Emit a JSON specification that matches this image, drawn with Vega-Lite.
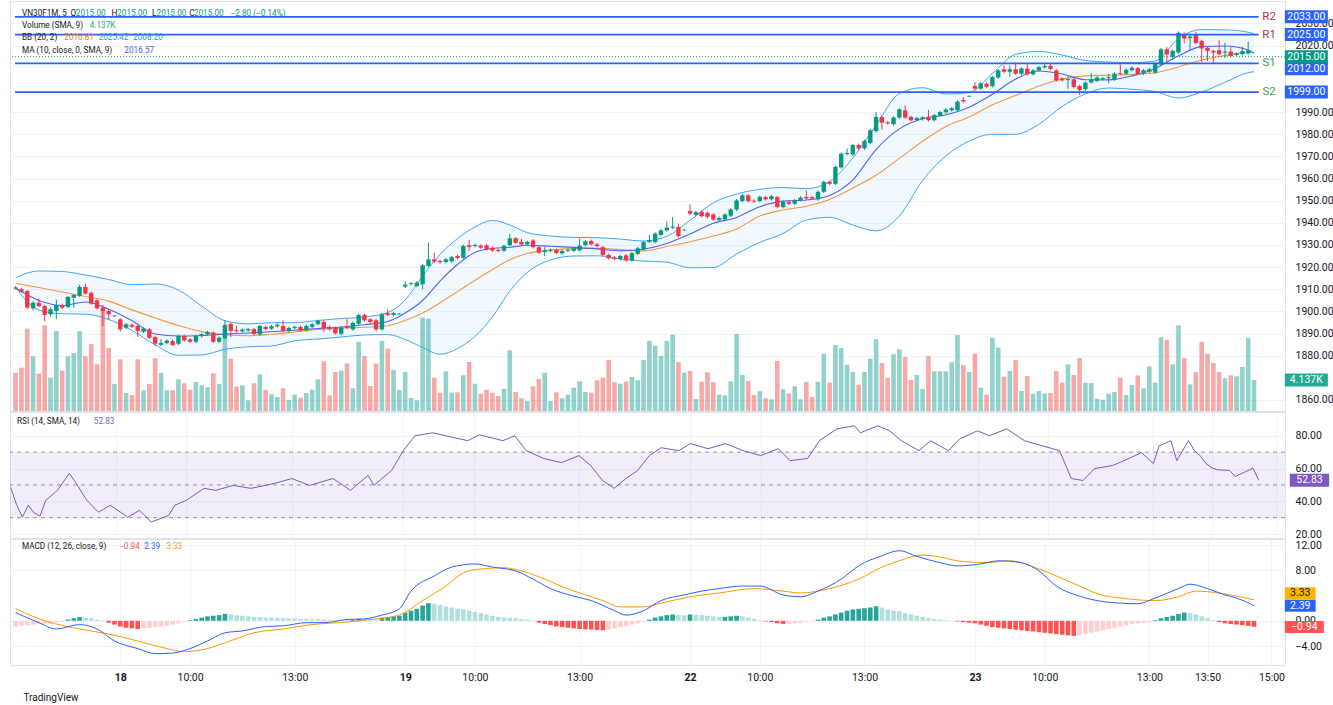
{
"$schema": "https://vega.github.io/schema/vega-lite/v6.json",
"background": "white",
"padding": {"left": 8, "top": 0, "right": 0, "bottom": 0},
"bounds": "flush",
"spacing": 1,
"config": {
  "font": "Roboto",
  "view": {"stroke": "#e0e3eb"},
  "axis": {"labelFont": "Roboto", "labelFontSize": 10.5, "labelColor": "#131722", "gridColor": "#f0f3fa", "domain": false, "ticks": false, "labelOverlap": false},
  "axisRight": {"labelOverlap": false}
},
"datasets": {
"one": [{}],
"k": [
{"i":-1,"o":1910.8,"h":1911.5,"l":1909.9,"c":1910.3,"v":5110,"m":-0.9,"g":1},
{"i":0,"o":1910.0,"h":1910.6,"l":1908.5,"c":1908.9,"v":5790,"m":-0.8,"g":1},
{"i":1,"o":1909.2,"h":1909.6,"l":1901.2,"c":1901.7,"v":10990,"m":-0.7,"g":1},
{"i":2,"o":1901.4,"h":1904.6,"l":1900.5,"c":1903.9,"v":7300,"m":-0.6,"g":1},
{"i":3,"o":1903.9,"h":1905.8,"l":1901.9,"c":1902.4,"v":4990,"m":-0.5,"g":1},
{"i":4,"o":1902.4,"h":1902.9,"l":1895.4,"c":1898.4,"v":11440,"m":-0.45,"g":1},
{"i":5,"o":1898.7,"h":1901.8,"l":1897.8,"c":1901.0,"v":4450,"m":-0.4,"g":1},
{"i":6,"o":1900.2,"h":1905.3,"l":1896.5,"c":1902.9,"v":10680,"m":-0.3,"g":1},
{"i":7,"o":1902.9,"h":1903.5,"l":1901.0,"c":1901.7,"v":5390,"m":-0.2,"g":1},
{"i":8,"o":1902.0,"h":1907.0,"l":1901.5,"c":1906.5,"v":7300,"m":0.2,"g":1},
{"i":9,"o":1906.2,"h":1907.9,"l":1901.7,"c":1907.4,"v":7750,"m":0.4,"g":1},
{"i":10,"o":1907.0,"h":1912.0,"l":1906.5,"c":1911.0,"v":10680,"m":0.6,"g":1},
{"i":11,"o":1911.0,"h":1912.6,"l":1907.5,"c":1908.0,"v":7300,"m":0.5,"g":0},
{"i":12,"o":1908.4,"h":1909.0,"l":1903.0,"c":1903.5,"v":8950,"m":0.4,"g":0},
{"i":13,"o":1905.0,"h":1905.6,"l":1900.9,"c":1901.4,"v":6230,"m":0.2,"g":0},
{"i":14,"o":1901.7,"h":1903.0,"l":1893.4,"c":1900.2,"v":13490,"m":0.1,"g":0},
{"i":15,"o":1900.2,"h":1901.0,"l":1896.2,"c":1898.7,"v":8410,"m":-0.3,"g":0},
{"i":16,"o":1897.8,"h":1898.3,"l":1897.5,"c":1898.1,"v":3610,"m":-0.6,"g":0},
{"i":17,"o":1896.4,"h":1897.0,"l":1890.8,"c":1891.9,"v":6900,"m":-0.9,"g":0},
{"i":18,"o":1892.6,"h":1894.8,"l":1892.0,"c":1894.2,"v":2400,"m":-1.1,"g":0},
{"i":19,"o":1893.9,"h":1894.5,"l":1892.5,"c":1893.1,"v":2140,"m":-1.2,"g":0},
{"i":20,"o":1893.4,"h":1894.0,"l":1888.4,"c":1891.2,"v":6900,"m":-1.3,"g":0},
{"i":21,"o":1890.8,"h":1892.9,"l":1890.2,"c":1892.3,"v":2760,"m":-1.2,"g":1},
{"i":22,"o":1891.9,"h":1892.5,"l":1887.5,"c":1888.1,"v":3610,"m":-1.1,"g":1},
{"i":23,"o":1888.4,"h":1889.0,"l":1884.3,"c":1885.4,"v":7080,"m":-1.0,"g":1},
{"i":24,"o":1884.9,"h":1887.5,"l":1884.3,"c":1885.7,"v":5080,"m":-0.9,"g":1},
{"i":25,"o":1885.7,"h":1887.4,"l":1885.1,"c":1886.8,"v":2760,"m":-0.8,"g":1},
{"i":26,"o":1886.6,"h":1887.2,"l":1884.2,"c":1884.8,"v":2760,"m":-0.6,"g":1},
{"i":27,"o":1885.4,"h":1889.5,"l":1884.8,"c":1888.9,"v":4230,"m":-0.4,"g":1},
{"i":28,"o":1888.9,"h":1889.5,"l":1886.3,"c":1886.9,"v":3700,"m":-0.2,"g":1},
{"i":29,"o":1887.4,"h":1888.0,"l":1885.7,"c":1886.3,"v":2850,"m":0.1,"g":1},
{"i":30,"o":1886.3,"h":1889.5,"l":1885.7,"c":1888.9,"v":3870,"m":0.3,"g":1},
{"i":31,"o":1888.8,"h":1890.3,"l":1888.2,"c":1889.7,"v":3430,"m":0.5,"g":1},
{"i":32,"o":1889.6,"h":1891.3,"l":1889.0,"c":1890.7,"v":3160,"m":0.7,"g":1},
{"i":33,"o":1890.4,"h":1891.0,"l":1885.7,"c":1886.3,"v":5030,"m":0.8,"g":1},
{"i":34,"o":1886.3,"h":1888.7,"l":1885.7,"c":1888.1,"v":3610,"m":0.9,"g":1},
{"i":35,"o":1887.9,"h":1896.0,"l":1887.3,"c":1893.9,"v":9790,"m":1.1,"g":1},
{"i":36,"o":1894.4,"h":1895.0,"l":1888.4,"c":1891.2,"v":6990,"m":1.0,"g":0},
{"i":37,"o":1891.5,"h":1893.4,"l":1890.4,"c":1891.0,"v":3250,"m":0.9,"g":0},
{"i":38,"o":1891.0,"h":1892.4,"l":1890.4,"c":1891.8,"v":3430,"m":0.8,"g":0},
{"i":39,"o":1891.4,"h":1892.6,"l":1890.8,"c":1892.0,"v":1430,"m":0.7,"g":0},
{"i":40,"o":1892.0,"h":1892.6,"l":1889.2,"c":1889.8,"v":3700,"m":0.6,"g":0},
{"i":41,"o":1889.6,"h":1894.0,"l":1889.0,"c":1893.4,"v":4900,"m":0.58,"g":0},
{"i":42,"o":1893.0,"h":1893.6,"l":1891.4,"c":1892.0,"v":2800,"m":0.5,"g":0},
{"i":43,"o":1892.2,"h":1893.9,"l":1891.6,"c":1893.3,"v":2230,"m":0.48,"g":0},
{"i":44,"o":1893.3,"h":1894.6,"l":1892.7,"c":1894.0,"v":1870,"m":0.46,"g":0},
{"i":45,"o":1893.4,"h":1896.0,"l":1890.6,"c":1891.2,"v":3030,"m":0.4,"g":0},
{"i":46,"o":1891.1,"h":1893.1,"l":1890.5,"c":1892.5,"v":1470,"m":0.38,"g":0},
{"i":47,"o":1892.4,"h":1893.6,"l":1891.8,"c":1893.0,"v":2200,"m":0.36,"g":0},
{"i":48,"o":1893.0,"h":1893.6,"l":1890.8,"c":1891.4,"v":1780,"m":0.3,"g":0},
{"i":49,"o":1891.5,"h":1894.0,"l":1890.9,"c":1893.4,"v":2400,"m":0.29,"g":0},
{"i":50,"o":1893.0,"h":1894.8,"l":1892.4,"c":1894.2,"v":2850,"m":0.28,"g":0},
{"i":51,"o":1894.2,"h":1896.3,"l":1893.6,"c":1895.7,"v":4230,"m":0.27,"g":0},
{"i":52,"o":1895.3,"h":1896.0,"l":1890.8,"c":1892.6,"v":6640,"m":0.2,"g":0},
{"i":53,"o":1893.0,"h":1893.6,"l":1891.4,"c":1892.0,"v":2090,"m":0.18,"g":0},
{"i":54,"o":1892.6,"h":1893.2,"l":1889.5,"c":1890.1,"v":5200,"m":0.1,"g":0},
{"i":55,"o":1889.9,"h":1893.2,"l":1889.3,"c":1892.6,"v":5390,"m":0.09,"g":0},
{"i":56,"o":1893.3,"h":1896.5,"l":1892.0,"c":1892.6,"v":6370,"m":0.08,"g":0},
{"i":57,"o":1891.9,"h":1895.4,"l":1891.3,"c":1894.8,"v":3030,"m":0.15,"g":1},
{"i":58,"o":1894.4,"h":1899.0,"l":1893.8,"c":1898.4,"v":9210,"m":0.3,"g":1},
{"i":59,"o":1898.4,"h":1899.0,"l":1895.4,"c":1896.0,"v":7340,"m":0.28,"g":0},
{"i":60,"o":1896.4,"h":1897.0,"l":1894.6,"c":1895.2,"v":3340,"m":0.26,"g":0},
{"i":61,"o":1896.0,"h":1896.6,"l":1891.0,"c":1891.9,"v":6320,"m":0.2,"g":0},
{"i":62,"o":1891.9,"h":1899.3,"l":1891.3,"c":1898.7,"v":9350,"m":0.5,"g":1},
{"i":63,"o":1899.2,"h":1901.0,"l":1897.8,"c":1898.4,"v":8320,"m":0.6,"g":1},
{"i":64,"o":1898.4,"h":1899.8,"l":1897.8,"c":1899.2,"v":5480,"m":0.7,"g":1},
{"i":65,"o":1898.7,"h":1899.2,"l":1898.4,"c":1899.0,"v":2800,"m":0.8,"g":1},
{"i":66,"o":1911.2,"h":1913.6,"l":1910.6,"c":1912.1,"v":5200,"m":1.3,"g":1},
{"i":67,"o":1912.3,"h":1913.2,"l":1911.8,"c":1912.7,"v":1740,"m":1.6,"g":1},
{"i":68,"o":1911.5,"h":1913.6,"l":1910.9,"c":1913.0,"v":1430,"m":1.9,"g":1},
{"i":69,"o":1912.2,"h":1921.4,"l":1910.0,"c":1920.8,"v":12460,"m":2.4,"g":1},
{"i":70,"o":1920.5,"h":1931.0,"l":1919.9,"c":1923.5,"v":12320,"m":2.8,"g":1},
{"i":71,"o":1923.5,"h":1926.5,"l":1921.9,"c":1922.5,"v":4450,"m":2.7,"g":0},
{"i":72,"o":1922.8,"h":1923.4,"l":1921.6,"c":1922.2,"v":2450,"m":2.5,"g":0},
{"i":73,"o":1922.3,"h":1924.1,"l":1921.7,"c":1923.5,"v":5300,"m":2.3,"g":0},
{"i":74,"o":1922.6,"h":1925.1,"l":1922.0,"c":1924.5,"v":2450,"m":2.1,"g":0},
{"i":75,"o":1925.0,"h":1925.6,"l":1923.5,"c":1924.1,"v":2500,"m":1.9,"g":0},
{"i":76,"o":1924.2,"h":1930.1,"l":1923.6,"c":1929.5,"v":4770,"m":1.8,"g":0},
{"i":77,"o":1929.9,"h":1932.2,"l":1927.3,"c":1929.1,"v":6540,"m":1.6,"g":0},
{"i":78,"o":1929.5,"h":1930.6,"l":1928.9,"c":1930.0,"v":3650,"m":1.4,"g":0},
{"i":79,"o":1929.7,"h":1930.3,"l":1928.2,"c":1928.8,"v":2310,"m":1.2,"g":0},
{"i":80,"o":1929.8,"h":1930.4,"l":1927.4,"c":1928.0,"v":2800,"m":1.0,"g":0},
{"i":81,"o":1928.7,"h":1929.3,"l":1926.9,"c":1927.5,"v":2450,"m":0.8,"g":0},
{"i":82,"o":1927.8,"h":1928.4,"l":1926.7,"c":1927.3,"v":2000,"m":0.6,"g":0},
{"i":83,"o":1927.4,"h":1930.2,"l":1926.8,"c":1929.6,"v":2940,"m":0.5,"g":0},
{"i":84,"o":1929.9,"h":1935.0,"l":1929.3,"c":1933.0,"v":8100,"m":0.48,"g":0},
{"i":85,"o":1933.0,"h":1933.6,"l":1930.4,"c":1931.0,"v":2540,"m":0.4,"g":0},
{"i":86,"o":1931.3,"h":1932.8,"l":1929.6,"c":1930.2,"v":1700,"m":0.3,"g":0},
{"i":87,"o":1930.3,"h":1932.0,"l":1929.7,"c":1931.4,"v":1340,"m":0.2,"g":0},
{"i":88,"o":1932.0,"h":1932.6,"l":1928.4,"c":1929.0,"v":3300,"m":0.05,"g":0},
{"i":89,"o":1929.0,"h":1929.6,"l":1925.9,"c":1926.5,"v":4270,"m":-0.3,"g":0},
{"i":90,"o":1926.8,"h":1929.0,"l":1925.0,"c":1927.5,"v":5120,"m":-0.5,"g":0},
{"i":91,"o":1927.3,"h":1928.4,"l":1926.7,"c":1927.8,"v":1340,"m":-0.7,"g":0},
{"i":92,"o":1927.8,"h":1928.4,"l":1925.8,"c":1926.4,"v":2500,"m":-0.9,"g":0},
{"i":93,"o":1926.2,"h":1927.9,"l":1925.6,"c":1927.3,"v":1700,"m":-1.0,"g":0},
{"i":94,"o":1927.4,"h":1928.4,"l":1926.8,"c":1927.8,"v":2180,"m":-1.1,"g":0},
{"i":95,"o":1927.4,"h":1929.1,"l":1926.8,"c":1928.5,"v":3110,"m":-1.2,"g":0},
{"i":96,"o":1927.6,"h":1932.8,"l":1927.0,"c":1929.7,"v":3970,"m":-1.3,"g":0},
{"i":97,"o":1929.9,"h":1932.2,"l":1929.3,"c":1931.6,"v":2540,"m":-1.35,"g":0},
{"i":98,"o":1931.8,"h":1932.4,"l":1929.7,"c":1930.3,"v":2450,"m":-1.4,"g":0},
{"i":99,"o":1930.3,"h":1930.9,"l":1928.9,"c":1929.5,"v":4100,"m":-1.45,"g":0},
{"i":100,"o":1929.0,"h":1929.6,"l":1924.9,"c":1925.5,"v":4450,"m":-1.5,"g":0},
{"i":101,"o":1925.5,"h":1926.1,"l":1923.4,"c":1924.0,"v":6810,"m":-1.4,"g":1},
{"i":102,"o":1924.4,"h":1925.0,"l":1923.1,"c":1923.7,"v":3830,"m":-1.2,"g":1},
{"i":103,"o":1923.6,"h":1925.6,"l":1923.0,"c":1925.0,"v":3650,"m":-1.0,"g":1},
{"i":104,"o":1925.3,"h":1925.9,"l":1922.4,"c":1923.0,"v":3920,"m":-0.8,"g":1},
{"i":105,"o":1923.0,"h":1926.9,"l":1922.4,"c":1926.3,"v":4540,"m":-0.6,"g":1},
{"i":106,"o":1926.0,"h":1929.1,"l":1925.4,"c":1928.5,"v":4100,"m":-0.4,"g":1},
{"i":107,"o":1928.0,"h":1931.9,"l":1927.4,"c":1931.3,"v":6810,"m":-0.1,"g":1},
{"i":108,"o":1931.4,"h":1934.5,"l":1930.8,"c":1932.2,"v":9350,"m":0.2,"g":1},
{"i":109,"o":1931.3,"h":1935.7,"l":1930.7,"c":1935.1,"v":8720,"m":0.5,"g":1},
{"i":110,"o":1934.5,"h":1937.2,"l":1933.9,"c":1936.6,"v":7340,"m":0.7,"g":1},
{"i":111,"o":1936.6,"h":1940.5,"l":1936.0,"c":1937.8,"v":9350,"m":0.9,"g":1},
{"i":112,"o":1937.8,"h":1942.6,"l":1937.2,"c":1938.3,"v":10190,"m":1.0,"g":1},
{"i":113,"o":1938.1,"h":1939.6,"l":1933.4,"c":1934.0,"v":6540,"m":0.9,"g":0},
{"i":114,"o":1936.6,"h":1937.2,"l":1936.2,"c":1936.9,"v":5120,"m":0.85,"g":0},
{"i":115,"o":1945.3,"h":1948.3,"l":1943.5,"c":1944.1,"v":5340,"m":1.0,"g":1},
{"i":116,"o":1943.6,"h":1945.4,"l":1943.0,"c":1944.8,"v":1600,"m":0.95,"g":0},
{"i":117,"o":1945.0,"h":1945.6,"l":1942.4,"c":1943.0,"v":3910,"m":0.9,"g":0},
{"i":118,"o":1944.5,"h":1945.1,"l":1942.1,"c":1942.7,"v":5170,"m":0.8,"g":0},
{"i":119,"o":1943.8,"h":1944.4,"l":1940.9,"c":1941.5,"v":3830,"m":0.7,"g":0},
{"i":120,"o":1941.3,"h":1942.8,"l":1940.7,"c":1942.2,"v":2180,"m":0.6,"g":0},
{"i":121,"o":1941.6,"h":1944.3,"l":1941.0,"c":1943.7,"v":2100,"m":0.62,"g":1},
{"i":122,"o":1943.2,"h":1946.6,"l":1942.6,"c":1946.0,"v":3970,"m":0.7,"g":1},
{"i":123,"o":1946.0,"h":1950.7,"l":1945.4,"c":1950.1,"v":10280,"m":0.8,"g":1},
{"i":124,"o":1949.8,"h":1953.0,"l":1949.2,"c":1952.4,"v":4810,"m":0.7,"g":0},
{"i":125,"o":1952.4,"h":1953.0,"l":1949.2,"c":1949.8,"v":4000,"m":0.5,"g":0},
{"i":126,"o":1950.0,"h":1950.6,"l":1949.0,"c":1949.6,"v":2140,"m":0.3,"g":0},
{"i":127,"o":1949.8,"h":1952.3,"l":1949.2,"c":1951.7,"v":2650,"m":0.1,"g":0},
{"i":128,"o":1951.6,"h":1952.2,"l":1950.0,"c":1950.6,"v":1700,"m":-0.1,"g":0},
{"i":129,"o":1950.6,"h":1952.6,"l":1950.0,"c":1952.0,"v":1560,"m":-0.2,"g":0},
{"i":130,"o":1951.6,"h":1952.2,"l":1946.5,"c":1947.1,"v":6680,"m":-0.4,"g":0},
{"i":131,"o":1947.1,"h":1950.1,"l":1946.5,"c":1949.5,"v":2900,"m":-0.5,"g":0},
{"i":132,"o":1949.5,"h":1950.1,"l":1948.0,"c":1948.6,"v":2360,"m":-0.48,"g":1},
{"i":133,"o":1948.6,"h":1950.9,"l":1948.0,"c":1950.3,"v":3300,"m":-0.4,"g":1},
{"i":134,"o":1950.3,"h":1952.0,"l":1949.7,"c":1951.4,"v":1560,"m":-0.3,"g":1},
{"i":135,"o":1951.7,"h":1954.6,"l":1950.4,"c":1951.0,"v":3870,"m":-0.2,"g":1},
{"i":136,"o":1951.6,"h":1952.2,"l":1950.3,"c":1950.9,"v":1870,"m":-0.1,"g":1},
{"i":137,"o":1950.6,"h":1954.6,"l":1950.0,"c":1954.0,"v":3870,"m":0.2,"g":1},
{"i":138,"o":1954.0,"h":1959.1,"l":1953.4,"c":1958.5,"v":7650,"m":0.5,"g":1},
{"i":139,"o":1958.5,"h":1959.1,"l":1957.0,"c":1957.6,"v":3800,"m":0.7,"g":1},
{"i":140,"o":1957.6,"h":1965.8,"l":1957.0,"c":1965.2,"v":8810,"m":1.0,"g":1},
{"i":141,"o":1965.0,"h":1971.8,"l":1964.4,"c":1971.2,"v":8410,"m":1.3,"g":1},
{"i":142,"o":1971.0,"h":1973.6,"l":1970.4,"c":1971.5,"v":6180,"m":1.6,"g":1},
{"i":143,"o":1970.9,"h":1975.7,"l":1970.3,"c":1975.1,"v":5200,"m":1.8,"g":1},
{"i":144,"o":1975.1,"h":1975.7,"l":1973.0,"c":1973.6,"v":3510,"m":1.9,"g":1},
{"i":145,"o":1973.6,"h":1977.5,"l":1973.0,"c":1976.9,"v":5200,"m":2.0,"g":1},
{"i":146,"o":1976.0,"h":1982.4,"l":1975.4,"c":1981.8,"v":6990,"m":2.1,"g":1},
{"i":147,"o":1981.4,"h":1990.0,"l":1980.8,"c":1987.8,"v":9610,"m":2.3,"g":1},
{"i":148,"o":1987.8,"h":1988.4,"l":1982.0,"c":1985.2,"v":6410,"m":2.1,"g":0},
{"i":149,"o":1985.4,"h":1986.0,"l":1984.3,"c":1984.9,"v":4450,"m":1.8,"g":0},
{"i":150,"o":1984.5,"h":1988.1,"l":1983.9,"c":1987.5,"v":7570,"m":1.6,"g":0},
{"i":151,"o":1987.5,"h":1991.8,"l":1986.9,"c":1991.2,"v":8240,"m":1.5,"g":0},
{"i":152,"o":1990.8,"h":1993.0,"l":1986.9,"c":1987.5,"v":7210,"m":1.2,"g":0},
{"i":153,"o":1987.8,"h":1988.4,"l":1985.7,"c":1986.3,"v":4140,"m":1.0,"g":0},
{"i":154,"o":1986.4,"h":1987.9,"l":1985.8,"c":1987.3,"v":4810,"m":0.8,"g":0},
{"i":155,"o":1986.8,"h":1988.2,"l":1986.2,"c":1987.6,"v":2940,"m":0.6,"g":0},
{"i":156,"o":1987.8,"h":1991.0,"l":1985.7,"c":1986.3,"v":7340,"m":0.4,"g":0},
{"i":157,"o":1986.3,"h":1989.2,"l":1985.7,"c":1988.6,"v":5300,"m":0.3,"g":0},
{"i":158,"o":1988.5,"h":1990.6,"l":1987.9,"c":1990.0,"v":5300,"m":0.2,"g":0},
{"i":159,"o":1989.9,"h":1991.7,"l":1989.3,"c":1991.1,"v":5300,"m":0.1,"g":0},
{"i":160,"o":1990.8,"h":1992.3,"l":1990.2,"c":1991.7,"v":6500,"m":0.02,"g":0},
{"i":161,"o":1990.8,"h":1995.3,"l":1990.2,"c":1994.7,"v":10150,"m":-0.1,"g":0},
{"i":162,"o":1995.4,"h":1996.8,"l":1994.2,"c":1994.8,"v":6140,"m":-0.2,"g":0},
{"i":163,"o":1997.0,"h":1997.5,"l":1996.8,"c":1997.3,"v":5200,"m":-0.3,"g":0},
{"i":164,"o":2001.8,"h":2003.5,"l":2000.0,"c":2000.6,"v":7650,"m":-0.4,"g":0},
{"i":165,"o":2000.6,"h":2003.6,"l":2000.0,"c":2003.0,"v":3110,"m":-0.6,"g":0},
{"i":166,"o":2002.8,"h":2003.4,"l":2000.8,"c":2001.4,"v":2180,"m":-0.8,"g":0},
{"i":167,"o":2001.7,"h":2006.4,"l":2001.1,"c":2005.8,"v":9750,"m":-1.0,"g":0},
{"i":168,"o":2005.6,"h":2009.4,"l":2005.0,"c":2008.8,"v":8450,"m":-1.1,"g":0},
{"i":169,"o":2009.3,"h":2011.0,"l":2007.6,"c":2008.2,"v":4600,"m":-1.2,"g":0},
{"i":170,"o":2008.2,"h":2011.0,"l":2005.9,"c":2009.3,"v":5340,"m":-1.3,"g":0},
{"i":171,"o":2009.3,"h":2012.4,"l":2006.7,"c":2007.3,"v":6810,"m":-1.4,"g":0},
{"i":172,"o":2007.3,"h":2010.3,"l":2006.7,"c":2009.7,"v":2670,"m":-1.5,"g":0},
{"i":173,"o":2009.6,"h":2011.9,"l":2006.5,"c":2007.1,"v":4670,"m":-1.6,"g":0},
{"i":174,"o":2007.1,"h":2009.5,"l":2006.5,"c":2008.9,"v":2310,"m":-1.7,"g":0},
{"i":175,"o":2008.8,"h":2010.9,"l":2008.2,"c":2010.3,"v":2670,"m":-1.8,"g":0},
{"i":176,"o":2010.2,"h":2011.9,"l":2009.6,"c":2010.8,"v":2360,"m":-1.9,"g":0},
{"i":177,"o":2010.9,"h":2011.9,"l":2008.9,"c":2009.5,"v":2400,"m":-2.0,"g":0},
{"i":178,"o":2008.8,"h":2009.4,"l":2003.7,"c":2004.3,"v":5340,"m":-2.1,"g":0},
{"i":179,"o":2005.2,"h":2005.8,"l":2003.7,"c":2004.3,"v":3780,"m":-2.2,"g":0},
{"i":180,"o":2004.4,"h":2006.2,"l":2000.5,"c":2004.9,"v":6230,"m":-2.3,"g":0},
{"i":181,"o":2004.8,"h":2005.4,"l":2000.7,"c":2001.3,"v":4810,"m":-2.4,"g":0},
{"i":182,"o":2001.8,"h":2002.4,"l":1997.7,"c":1999.9,"v":7080,"m":-2.3,"g":1},
{"i":183,"o":2000.3,"h":2003.9,"l":1999.7,"c":2003.3,"v":3780,"m":-2.1,"g":1},
{"i":184,"o":2003.4,"h":2007.5,"l":2002.8,"c":2004.6,"v":3740,"m":-1.9,"g":1},
{"i":185,"o":2004.1,"h":2006.2,"l":2003.5,"c":2005.6,"v":1640,"m":-1.7,"g":1},
{"i":186,"o":2004.9,"h":2005.9,"l":2004.3,"c":2005.3,"v":1500,"m":-1.5,"g":1},
{"i":187,"o":2005.3,"h":2007.2,"l":2003.0,"c":2005.8,"v":2310,"m":-1.3,"g":1},
{"i":188,"o":2004.7,"h":2007.9,"l":2004.1,"c":2007.3,"v":2540,"m":-1.1,"g":1},
{"i":189,"o":2007.6,"h":2011.5,"l":2006.6,"c":2007.2,"v":4450,"m":-0.9,"g":1},
{"i":190,"o":2007.3,"h":2009.7,"l":2006.7,"c":2009.1,"v":2130,"m":-0.7,"g":1},
{"i":191,"o":2008.9,"h":2010.6,"l":2008.3,"c":2010.0,"v":3470,"m":-0.5,"g":1},
{"i":192,"o":2009.8,"h":2010.4,"l":2006.6,"c":2007.2,"v":4760,"m":-0.4,"g":1},
{"i":193,"o":2007.4,"h":2009.5,"l":2006.8,"c":2008.9,"v":3030,"m":-0.3,"g":1},
{"i":194,"o":2008.2,"h":2009.9,"l":2007.6,"c":2009.3,"v":5970,"m":-0.2,"g":1},
{"i":195,"o":2007.8,"h":2012.4,"l":2007.2,"c":2011.8,"v":3780,"m":0.1,"g":1},
{"i":196,"o":2011.5,"h":2018.9,"l":2010.9,"c":2018.3,"v":9840,"m":0.4,"g":1},
{"i":197,"o":2018.3,"h":2019.3,"l":2012.0,"c":2016.0,"v":9520,"m":0.6,"g":1},
{"i":198,"o":2014.9,"h":2018.2,"l":2013.5,"c":2017.6,"v":6230,"m":0.8,"g":1},
{"i":199,"o":2016.9,"h":2026.4,"l":2016.3,"c":2025.8,"v":11440,"m":1.1,"g":1},
{"i":200,"o":2025.3,"h":2025.9,"l":2021.0,"c":2023.2,"v":7080,"m":1.3,"g":1},
{"i":201,"o":2023.4,"h":2024.7,"l":2018.0,"c":2024.1,"v":3560,"m":1.2,"g":0},
{"i":202,"o":2025.0,"h":2026.2,"l":2020.6,"c":2021.2,"v":5200,"m":1.0,"g":0},
{"i":203,"o":2022.1,"h":2022.7,"l":2012.7,"c":2018.7,"v":9250,"m":0.7,"g":0},
{"i":204,"o":2019.0,"h":2019.6,"l":2013.0,"c":2017.6,"v":7650,"m":0.4,"g":0},
{"i":205,"o":2017.6,"h":2018.2,"l":2012.0,"c":2016.9,"v":6410,"m":0.1,"g":0},
{"i":206,"o":2017.9,"h":2022.4,"l":2015.5,"c":2016.1,"v":5200,"m":-0.2,"g":0},
{"i":207,"o":2016.8,"h":2021.3,"l":2014.5,"c":2017.3,"v":4370,"m":-0.4,"g":0},
{"i":208,"o":2017.3,"h":2019.5,"l":2014.7,"c":2015.3,"v":4760,"m":-0.5,"g":0},
{"i":209,"o":2015.8,"h":2017.0,"l":2015.2,"c":2016.6,"v":4630,"m":-0.6,"g":0},
{"i":210,"o":2016.2,"h":2019.5,"l":2015.6,"c":2017.5,"v":5880,"m":-0.7,"g":0},
{"i":211,"o":2016.5,"h":2021.8,"l":2015.9,"c":2017.8,"v":9750,"m":-0.8,"g":0},
{"i":212,"o":2015.0,"h":2015.0,"l":2015.0,"c":2015.0,"v":4137,"m":-0.94,"g":0}
],
"b": [
{"i":-1,"up":1915.21,"lo":1910.70,"mid":1912.69,"ma":1910.43},
{"i":3,"up":1918.24,"lo":1900.63,"mid":1910.79,"ma":1904.92},
{"i":7,"up":1918.01,"lo":1898.92,"mid":1908.76,"ma":1902.62},
{"i":11,"up":1916.43,"lo":1898.78,"mid":1906.73,"ma":1904.24},
{"i":15,"up":1914.40,"lo":1896.34,"mid":1904.65,"ma":1900.99},
{"i":19,"up":1912.05,"lo":1891.38,"mid":1900.68,"ma":1895.85},
{"i":23,"up":1912.37,"lo":1884.92,"mid":1897.02,"ma":1889.80},
{"i":27,"up":1909.66,"lo":1880.18,"mid":1893.59,"ma":1888.89},
{"i":31,"up":1902.44,"lo":1880.32,"mid":1890.88,"ma":1889.12},
{"i":35,"up":1895.80,"lo":1882.89,"mid":1889.48,"ma":1889.75},
{"i":39,"up":1894.40,"lo":1884.02,"mid":1889.03,"ma":1890.25},
{"i":43,"up":1894.90,"lo":1884.38,"mid":1889.66,"ma":1890.84},
{"i":47,"up":1894.90,"lo":1886.73,"mid":1890.70,"ma":1891.51},
{"i":51,"up":1895.89,"lo":1887.54,"mid":1891.83,"ma":1892.28},
{"i":55,"up":1896.79,"lo":1888.44,"mid":1892.46,"ma":1892.96},
{"i":59,"up":1897.47,"lo":1889.35,"mid":1892.87,"ma":1893.95},
{"i":63,"up":1899.50,"lo":1889.53,"mid":1893.54,"ma":1895.44},
{"i":66,"up":1905.15,"lo":1887.31,"mid":1895.89,"ma":1899.28},
{"i":69,"up":1915.98,"lo":1883.70,"mid":1899.28,"ma":1904.92},
{"i":72,"up":1925.78,"lo":1880.63,"mid":1903.88,"ma":1913.72},
{"i":75,"up":1932.87,"lo":1883.25,"mid":1908.94,"ma":1921.17},
{"i":78,"up":1938.10,"lo":1888.67,"mid":1914.04,"ma":1926.64},
{"i":81,"up":1941.04,"lo":1897.47,"mid":1918.92,"ma":1928.40},
{"i":84,"up":1939.01,"lo":1909.21,"mid":1923.34,"ma":1928.94},
{"i":87,"up":1935.58,"lo":1917.56,"mid":1926.18,"ma":1929.89},
{"i":91,"up":1934.04,"lo":1923.21,"mid":1927.72,"ma":1929.39},
{"i":95,"up":1933.41,"lo":1925.01,"mid":1928.35,"ma":1928.89},
{"i":99,"up":1933.27,"lo":1925.10,"mid":1928.44,"ma":1928.22},
{"i":103,"up":1932.64,"lo":1923.66,"mid":1927.90,"ma":1927.31},
{"i":107,"up":1931.78,"lo":1922.71,"mid":1927.31,"ma":1928.08},
{"i":111,"up":1933.91,"lo":1922.21,"mid":1929.30,"ma":1930.65},
{"i":115,"up":1941.13,"lo":1919.68,"mid":1931.42,"ma":1934.94},
{"i":119,"up":1949.03,"lo":1919.82,"mid":1934.00,"ma":1939.77},
{"i":123,"up":1953.00,"lo":1925.91,"mid":1937.20,"ma":1942.44},
{"i":127,"up":1955.12,"lo":1931.15,"mid":1943.07,"ma":1947.27},
{"i":131,"up":1955.94,"lo":1935.17,"mid":1945.78,"ma":1949.80},
{"i":135,"up":1955.39,"lo":1941.26,"mid":1947.50,"ma":1950.29},
{"i":139,"up":1958.65,"lo":1942.48,"mid":1950.52,"ma":1952.33},
{"i":143,"up":1969.26,"lo":1939.01,"mid":1955.71,"ma":1959.37},
{"i":147,"up":1984.15,"lo":1936.34,"mid":1961.44,"ma":1973.09},
{"i":151,"up":1998.37,"lo":1943.07,"mid":1969.07,"ma":1982.39},
{"i":155,"up":2001.00,"lo":1959.10,"mid":1976.79,"ma":1986.95},
{"i":159,"up":1998.15,"lo":1970.16,"mid":1983.52,"ma":1988.76},
{"i":163,"up":1998.74,"lo":1976.93,"mid":1987.77,"ma":1992.19},
{"i":167,"up":2007.40,"lo":1979.95,"mid":1993.27,"ma":1998.01},
{"i":171,"up":2016.07,"lo":1979.95,"mid":1997.47,"ma":2004.92},
{"i":175,"up":2017.38,"lo":1984.47,"mid":2001.76,"ma":2008.53},
{"i":179,"up":2015.76,"lo":1992.51,"mid":2004.92,"ma":2007.18},
{"i":183,"up":2013.23,"lo":1998.19,"mid":2006.32,"ma":2004.60},
{"i":187,"up":2012.60,"lo":2000.86,"mid":2006.64,"ma":2004.52},
{"i":191,"up":2012.28,"lo":2000.27,"mid":2007.00,"ma":2006.32},
{"i":195,"up":2013.05,"lo":1999.28,"mid":2007.72,"ma":2009.71},
{"i":199,"up":2023.21,"lo":1996.34,"mid":2010.38,"ma":2015.40},
{"i":203,"up":2027.23,"lo":1999.05,"mid":2013.54,"ma":2019.55},
{"i":207,"up":2027.13,"lo":2003.39,"mid":2015.49,"ma":2019.82},
{"i":211,"up":2026.05,"lo":2007.81,"mid":2017.02,"ma":2018.01},
{"i":212,"up":2025.42,"lo":2008.20,"mid":2016.81,"ma":2016.57}
],
"lv": [
{"n":"R2","p":2033,"t":"R"},
{"n":"R1","p":2025,"t":"R"},
{"n":"S1","p":2012,"t":"S"},
{"n":"S2","p":1999,"t":"S"}
],
"r": [
{"i":-1,"r":48.5},{"i":0,"r":38},{"i":1,"r":30.3},{"i":2,"r":37.6},{"i":3,"r":33},{"i":4,"r":30.9},{"i":5,"r":40.6},{"i":7,"r":46.7},{"i":9,"r":57},{"i":10,"r":52},{"i":12,"r":40.6},{"i":14,"r":33.3},{"i":16,"r":37.6},{"i":19,"r":30.3},{"i":21,"r":34.5},{"i":23,"r":27.3},{"i":26,"r":31.5},{"i":27,"r":37.6},{"i":29,"r":40.6},{"i":32,"r":47.9},{"i":34,"r":46.7},{"i":37,"r":49.7},{"i":40,"r":47.9},{"i":44,"r":50.9},{"i":47,"r":53.9},{"i":50,"r":49.7},{"i":54,"r":53.9},{"i":57,"r":46.7},{"i":60,"r":55.8},{"i":61,"r":49.7},{"i":64,"r":58.8},{"i":66,"r":70.9},{"i":68,"r":80},{"i":71,"r":81.8},{"i":74,"r":79.4},{"i":77,"r":77},{"i":79,"r":80.6},{"i":83,"r":77},{"i":85,"r":80},{"i":87,"r":70.9},{"i":90,"r":66.1},{"i":93,"r":63.6},{"i":96,"r":67.9},{"i":98,"r":61.8},{"i":100,"r":52.7},{"i":102,"r":47.9},{"i":104,"r":53.9},{"i":106,"r":58.8},{"i":108,"r":67.9},{"i":110,"r":72.7},{"i":113,"r":70.9},{"i":115,"r":75.2},{"i":118,"r":72.1},{"i":121,"r":75.2},{"i":124,"r":70.9},{"i":127,"r":67.9},{"i":130,"r":72.1},{"i":132,"r":64.8},{"i":135,"r":66.1},{"i":137,"r":77},{"i":140,"r":84.2},{"i":143,"r":86.1},{"i":144,"r":81.8},{"i":147,"r":86.1},{"i":149,"r":83},{"i":151,"r":77},{"i":154,"r":70.9},{"i":156,"r":77},{"i":159,"r":70.9},{"i":161,"r":78.2},{"i":164,"r":83},{"i":166,"r":80},{"i":169,"r":84.2},{"i":172,"r":77},{"i":175,"r":73.9},{"i":178,"r":70.9},{"i":180,"r":53.9},{"i":182,"r":52.7},{"i":184,"r":60},{"i":187,"r":61.8},{"i":189,"r":64.8},{"i":192,"r":69.7},{"i":194,"r":63},{"i":195,"r":73.9},{"i":197,"r":77},{"i":198,"r":64.8},{"i":200,"r":77},{"i":201,"r":70.9},{"i":202,"r":67.9},{"i":203,"r":63},{"i":204,"r":60.4},{"i":205,"r":59.2},{"i":207,"r":58.8},{"i":208,"r":55.2},{"i":209,"r":56.8},{"i":211,"r":60.2},{"i":212,"r":52.83}
],
"md": [
{"i":-1,"v":1.3},{"i":3,"v":-0.3},{"i":6,"v":-1.3},{"i":10,"v":-0.6},{"i":13,"v":-1.3},{"i":16,"v":-3.2},{"i":20,"v":-4.4},{"i":23,"v":-5.2},{"i":26,"v":-5.1},{"i":29,"v":-4.4},{"i":32,"v":-3.2},{"i":35,"v":-1.9},{"i":38,"v":-1.6},{"i":42,"v":-0.9},{"i":45,"v":-0.8},{"i":49,"v":-0.3},{"i":52,"v":-0.3},{"i":56,"v":0.2},{"i":59,"v":0.3},{"i":62,"v":0.9},{"i":65,"v":1.9},{"i":67,"v":4.7},{"i":71,"v":7.1},{"i":74,"v":8.5},{"i":78,"v":9.0},{"i":81,"v":8.5},{"i":85,"v":7.9},{"i":88,"v":6.6},{"i":91,"v":5.1},{"i":95,"v":3.9},{"i":98,"v":3.2},{"i":102,"v":1.6},{"i":104,"v":0.9},{"i":107,"v":1.6},{"i":110,"v":3.2},{"i":114,"v":4.1},{"i":117,"v":4.7},{"i":120,"v":5.1},{"i":124,"v":5.5},{"i":127,"v":5.5},{"i":131,"v":4.1},{"i":134,"v":3.8},{"i":137,"v":4.7},{"i":141,"v":6.6},{"i":144,"v":8.7},{"i":148,"v":10.3},{"i":151,"v":11.1},{"i":154,"v":10.2},{"i":158,"v":9.2},{"i":161,"v":8.7},{"i":165,"v":9.0},{"i":168,"v":9.5},{"i":172,"v":9.2},{"i":175,"v":7.9},{"i":178,"v":5.5},{"i":182,"v":3.9},{"i":185,"v":3.2},{"i":189,"v":2.8},{"i":192,"v":2.7},{"i":195,"v":3.6},{"i":199,"v":5.1},{"i":201,"v":5.8},{"i":204,"v":5.1},{"i":207,"v":4.1},{"i":209,"v":3.6},{"i":212,"v":2.39}
],
"sg": [
{"i":-1,"v":1.9},{"i":4,"v":0.0},{"i":10,"v":-1.3},{"i":15,"v":-2.1},{"i":20,"v":-3.2},{"i":25,"v":-4.4},{"i":28,"v":-4.9},{"i":32,"v":-4.4},{"i":35,"v":-3.5},{"i":40,"v":-1.9},{"i":45,"v":-1.3},{"i":50,"v":-0.6},{"i":56,"v":-0.2},{"i":61,"v":0.3},{"i":65,"v":0.9},{"i":69,"v":3.2},{"i":73,"v":5.5},{"i":76,"v":7.6},{"i":79,"v":8.2},{"i":83,"v":8.4},{"i":86,"v":7.9},{"i":90,"v":6.6},{"i":93,"v":5.4},{"i":97,"v":4.1},{"i":100,"v":3.2},{"i":103,"v":2.2},{"i":107,"v":2.2},{"i":110,"v":2.8},{"i":115,"v":3.8},{"i":120,"v":4.4},{"i":126,"v":5.1},{"i":131,"v":4.7},{"i":134,"v":4.4},{"i":139,"v":5.1},{"i":144,"v":6.6},{"i":148,"v":8.5},{"i":151,"v":9.5},{"i":155,"v":10.4},{"i":158,"v":10.1},{"i":161,"v":9.5},{"i":166,"v":9.2},{"i":170,"v":9.5},{"i":175,"v":8.2},{"i":178,"v":7.1},{"i":182,"v":5.5},{"i":185,"v":4.3},{"i":190,"v":3.5},{"i":195,"v":3.2},{"i":199,"v":3.8},{"i":202,"v":4.7},{"i":206,"v":4.4},{"i":209,"v":3.9},{"i":212,"v":3.33}
]
},
"vconcat": [
{
"width": 1275, "height": 410,
"resolve": {"scale": {"y": "independent"}},
"layer": [
{
"layer": [
{"data": {"name": "k"},
 "mark": {"type": "bar", "width": 4.6, "clip": true, "opacity": 0.5},
 "encoding": {
  "x": {"field": "i", "type": "quantitative", "scale": {"domain": [-1.11, 216.47], "nice": false, "zero": false}, "axis": null},
  "y": {"field": "v", "type": "quantitative", "scale": {"domain": [0, 54735], "nice": false}, "axis": null},
  "y2": {"datum": 0},
  "color": {"condition": {"test": "datum.c >= datum.o", "value": "#26a69a"}, "value": "#ef5350"}
 }},
{"data": {"name": "one"},
 "mark": {"type": "rule", "strokeWidth": 13, "strokeCap": "butt", "color": "#22ab94"},
 "encoding": {
  "x": {"datum": 217.3, "type": "quantitative", "scale": {"domain": [-1.11, 216.47], "nice": false, "zero": false}, "axis": null},
  "x2": {"datum": 224.7},
  "y": {"datum": 4137, "type": "quantitative", "scale": {"domain": [0, 54735], "nice": false}, "axis": null}
 }},
{"data": {"name": "one"},
 "mark": {"type": "text", "text": "4.137K", "color": "white", "fontSize": 10.5, "align": "center", "baseline": "middle"},
 "encoding": {
  "x": {"datum": 221.0, "type": "quantitative", "scale": {"domain": [-1.11, 216.47], "nice": false, "zero": false}, "axis": null},
  "y": {"datum": 4137, "type": "quantitative", "scale": {"domain": [0, 54735], "nice": false}, "axis": null}
 }}
]
},
{
"layer": [
{"data": {"name": "b"},
 "mark": {"type": "area", "color": "#2196f3", "opacity": 0.06, "interpolate": "monotone"},
 "encoding": {
  "x": {"field": "i", "type": "quantitative", "scale": {"domain": [-1.11, 216.47], "nice": false, "zero": false}, "axis": {"orient": "bottom", "labels": false, "grid": true, "title": null, "values": [17, 29, 47, 66, 78, 96, 115, 127, 145, 164, 176, 194, 204, 215]}},
  "y": {"field": "up", "type": "quantitative", "scale": {"domain": [1855.03, 2040.14], "nice": false, "zero": false}, "axis": {"orient": "right", "title": null, "values": [1860, 1880, 1890, 1900, 1910, 1920, 1930, 1940, 1950, 1960, 1970, 1980, 1990, 2020, 2030], "format": ".2f", "labelPadding": 10, "grid": true, "labelOverlap": false}},
  "y2": {"field": "lo"}
 }},
{"data": {"name": "b"},
 "mark": {"type": "line", "color": "#42a5f5", "strokeWidth": 1, "interpolate": "monotone"},
 "encoding": {
  "x": {"field": "i", "type": "quantitative", "scale": {"domain": [-1.11, 216.47], "nice": false, "zero": false}, "axis": {"orient": "bottom", "labels": false, "grid": true, "title": null, "values": [17, 29, 47, 66, 78, 96, 115, 127, 145, 164, 176, 194, 204, 215]}},
  "y": {"field": "up", "type": "quantitative", "scale": {"domain": [1855.03, 2040.14], "nice": false, "zero": false}, "axis": {"orient": "right", "title": null, "values": [1860, 1880, 1890, 1900, 1910, 1920, 1930, 1940, 1950, 1960, 1970, 1980, 1990, 2020, 2030], "format": ".2f", "labelPadding": 10, "grid": true, "labelOverlap": false}}
 }},
{"data": {"name": "b"},
 "mark": {"type": "line", "color": "#42a5f5", "strokeWidth": 1, "interpolate": "monotone"},
 "encoding": {
  "x": {"field": "i", "type": "quantitative", "scale": {"domain": [-1.11, 216.47], "nice": false, "zero": false}, "axis": {"orient": "bottom", "labels": false, "grid": true, "title": null, "values": [17, 29, 47, 66, 78, 96, 115, 127, 145, 164, 176, 194, 204, 215]}},
  "y": {"field": "lo", "type": "quantitative", "scale": {"domain": [1855.03, 2040.14], "nice": false, "zero": false}, "axis": {"orient": "right", "title": null, "values": [1860, 1880, 1890, 1900, 1910, 1920, 1930, 1940, 1950, 1960, 1970, 1980, 1990, 2020, 2030], "format": ".2f", "labelPadding": 10, "grid": true, "labelOverlap": false}}
 }},
{"data": {"name": "b"},
 "mark": {"type": "line", "color": "#f7953f", "strokeWidth": 1.1, "interpolate": "monotone"},
 "encoding": {
  "x": {"field": "i", "type": "quantitative", "scale": {"domain": [-1.11, 216.47], "nice": false, "zero": false}, "axis": {"orient": "bottom", "labels": false, "grid": true, "title": null, "values": [17, 29, 47, 66, 78, 96, 115, 127, 145, 164, 176, 194, 204, 215]}},
  "y": {"field": "mid", "type": "quantitative", "scale": {"domain": [1855.03, 2040.14], "nice": false, "zero": false}, "axis": {"orient": "right", "title": null, "values": [1860, 1880, 1890, 1900, 1910, 1920, 1930, 1940, 1950, 1960, 1970, 1980, 1990, 2020, 2030], "format": ".2f", "labelPadding": 10, "grid": true, "labelOverlap": false}}
 }},
{"data": {"name": "b"},
 "mark": {"type": "line", "color": "#4e63f2", "strokeWidth": 1.1, "interpolate": "monotone"},
 "encoding": {
  "x": {"field": "i", "type": "quantitative", "scale": {"domain": [-1.11, 216.47], "nice": false, "zero": false}, "axis": {"orient": "bottom", "labels": false, "grid": true, "title": null, "values": [17, 29, 47, 66, 78, 96, 115, 127, 145, 164, 176, 194, 204, 215]}},
  "y": {"field": "ma", "type": "quantitative", "scale": {"domain": [1855.03, 2040.14], "nice": false, "zero": false}, "axis": {"orient": "right", "title": null, "values": [1860, 1880, 1890, 1900, 1910, 1920, 1930, 1940, 1950, 1960, 1970, 1980, 1990, 2020, 2030], "format": ".2f", "labelPadding": 10, "grid": true, "labelOverlap": false}}
 }},
{"data": {"name": "k"},
 "mark": {"type": "rule", "clip": true, "strokeWidth": 1},
 "encoding": {
  "x": {"field": "i", "type": "quantitative", "scale": {"domain": [-1.11, 216.47], "nice": false, "zero": false}, "axis": {"orient": "bottom", "labels": false, "grid": true, "title": null, "values": [17, 29, 47, 66, 78, 96, 115, 127, 145, 164, 176, 194, 204, 215]}},
  "y": {"field": "l", "type": "quantitative", "scale": {"domain": [1855.03, 2040.14], "nice": false, "zero": false}, "axis": {"orient": "right", "title": null, "values": [1860, 1880, 1890, 1900, 1910, 1920, 1930, 1940, 1950, 1960, 1970, 1980, 1990, 2020, 2030], "format": ".2f", "labelPadding": 10, "grid": true, "labelOverlap": false}},
  "y2": {"field": "h"},
  "color": {"condition": {"test": "datum.c >= datum.o", "value": "#089981"}, "value": "#f23645"}
 }},
{"data": {"name": "k"},
 "mark": {"type": "bar", "width": 4.4, "clip": true},
 "encoding": {
  "x": {"field": "i", "type": "quantitative", "scale": {"domain": [-1.11, 216.47], "nice": false, "zero": false}, "axis": {"orient": "bottom", "labels": false, "grid": true, "title": null, "values": [17, 29, 47, 66, 78, 96, 115, 127, 145, 164, 176, 194, 204, 215]}},
  "y": {"field": "o", "type": "quantitative", "scale": {"domain": [1855.03, 2040.14], "nice": false, "zero": false}, "axis": {"orient": "right", "title": null, "values": [1860, 1880, 1890, 1900, 1910, 1920, 1930, 1940, 1950, 1960, 1970, 1980, 1990, 2020, 2030], "format": ".2f", "labelPadding": 10, "grid": true, "labelOverlap": false}},
  "y2": {"field": "c"},
  "color": {"condition": {"test": "datum.c >= datum.o", "value": "#089981"}, "value": "#f23645"}
 }},
{"data": {"name": "one"},
 "mark": {"type": "rule", "color": "#089981", "strokeDash": [1, 2], "strokeWidth": 1},
 "encoding": {
  "y": {"datum": 2015, "type": "quantitative", "scale": {"domain": [1855.03, 2040.14], "nice": false, "zero": false}, "axis": {"orient": "right", "title": null, "values": [1860, 1880, 1890, 1900, 1910, 1920, 1930, 1940, 1950, 1960, 1970, 1980, 1990, 2020, 2030], "format": ".2f", "labelPadding": 10, "grid": true, "labelOverlap": false}}
 }},
{"data": {"name": "lv"},
 "mark": {"type": "rule", "color": "#2962ff", "strokeWidth": 1.8},
 "encoding": {
  "x": {"datum": -1.11, "type": "quantitative", "scale": {"domain": [-1.11, 216.47], "nice": false, "zero": false}, "axis": {"orient": "bottom", "labels": false, "grid": true, "title": null, "values": [17, 29, 47, 66, 78, 96, 115, 127, 145, 164, 176, 194, 204, 215]}},
  "x2": {"datum": 212.8},
  "y": {"field": "p", "type": "quantitative", "scale": {"domain": [1855.03, 2040.14], "nice": false, "zero": false}, "axis": {"orient": "right", "title": null, "values": [1860, 1880, 1890, 1900, 1910, 1920, 1930, 1940, 1950, 1960, 1970, 1980, 1990, 2020, 2030], "format": ".2f", "labelPadding": 10, "grid": true, "labelOverlap": false}}
 }},
{"data": {"name": "lv"},
 "mark": {"type": "text", "fontSize": 11.5, "align": "center", "baseline": "middle"},
 "encoding": {
  "x": {"datum": 214.6, "type": "quantitative", "scale": {"domain": [-1.11, 216.47], "nice": false, "zero": false}, "axis": {"orient": "bottom", "labels": false, "grid": true, "title": null, "values": [17, 29, 47, 66, 78, 96, 115, 127, 145, 164, 176, 194, 204, 215]}},
  "y": {"field": "p", "type": "quantitative", "scale": {"domain": [1855.03, 2040.14], "nice": false, "zero": false}, "axis": {"orient": "right", "title": null, "values": [1860, 1880, 1890, 1900, 1910, 1920, 1930, 1940, 1950, 1960, 1970, 1980, 1990, 2020, 2030], "format": ".2f", "labelPadding": 10, "grid": true, "labelOverlap": false}},
  "text": {"field": "n"},
  "color": {"condition": {"test": "datum.t == 'R'", "value": "#b2323f"}, "value": "#43a047"}
 }},
{"data": {"name": "lv"},
 "transform": [{"filter": "datum.n != 'S1'"}],
 "mark": {"type": "rule", "color": "#2962ff", "strokeWidth": 13, "strokeCap": "butt"},
 "encoding": {
  "x": {"datum": 217.3, "type": "quantitative", "scale": {"domain": [-1.11, 216.47], "nice": false, "zero": false}, "axis": {"orient": "bottom", "labels": false, "grid": true, "title": null, "values": [17, 29, 47, 66, 78, 96, 115, 127, 145, 164, 176, 194, 204, 215]}},
  "x2": {"datum": 224.7},
  "y": {"field": "p", "type": "quantitative", "scale": {"domain": [1855.03, 2040.14], "nice": false, "zero": false}, "axis": {"orient": "right", "title": null, "values": [1860, 1880, 1890, 1900, 1910, 1920, 1930, 1940, 1950, 1960, 1970, 1980, 1990, 2020, 2030], "format": ".2f", "labelPadding": 10, "grid": true, "labelOverlap": false}}
 }},
{"data": {"name": "lv"},
 "transform": [{"filter": "datum.n != 'S1'"}],
 "mark": {"type": "text", "fontSize": 10.5, "align": "center", "baseline": "middle", "color": "white"},
 "encoding": {
  "x": {"datum": 221.0, "type": "quantitative", "scale": {"domain": [-1.11, 216.47], "nice": false, "zero": false}, "axis": {"orient": "bottom", "labels": false, "grid": true, "title": null, "values": [17, 29, 47, 66, 78, 96, 115, 127, 145, 164, 176, 194, 204, 215]}},
  "y": {"field": "p", "type": "quantitative", "scale": {"domain": [1855.03, 2040.14], "nice": false, "zero": false}, "axis": {"orient": "right", "title": null, "values": [1860, 1880, 1890, 1900, 1910, 1920, 1930, 1940, 1950, 1960, 1970, 1980, 1990, 2020, 2030], "format": ".2f", "labelPadding": 10, "grid": true, "labelOverlap": false}},
  "text": {"field": "p", "format": ".2f"}
 }},
{"data": {"name": "one"},
 "mark": {"type": "rule", "color": "#2962ff", "strokeWidth": 13, "strokeCap": "butt"},
 "encoding": {
  "x": {"datum": 217.3, "type": "quantitative", "scale": {"domain": [-1.11, 216.47], "nice": false, "zero": false}, "axis": {"orient": "bottom", "labels": false, "grid": true, "title": null, "values": [17, 29, 47, 66, 78, 96, 115, 127, 145, 164, 176, 194, 204, 215]}},
  "x2": {"datum": 224.7},
  "y": {"datum": 2009.6, "type": "quantitative", "scale": {"domain": [1855.03, 2040.14], "nice": false, "zero": false}, "axis": {"orient": "right", "title": null, "values": [1860, 1880, 1890, 1900, 1910, 1920, 1930, 1940, 1950, 1960, 1970, 1980, 1990, 2020, 2030], "format": ".2f", "labelPadding": 10, "grid": true, "labelOverlap": false}}
 }},
{"data": {"name": "one"},
 "mark": {"type": "text", "text": "2012.00", "fontSize": 10.5, "align": "center", "baseline": "middle", "color": "white"},
 "encoding": {
  "x": {"datum": 221.0, "type": "quantitative", "scale": {"domain": [-1.11, 216.47], "nice": false, "zero": false}, "axis": {"orient": "bottom", "labels": false, "grid": true, "title": null, "values": [17, 29, 47, 66, 78, 96, 115, 127, 145, 164, 176, 194, 204, 215]}},
  "y": {"datum": 2009.6, "type": "quantitative", "scale": {"domain": [1855.03, 2040.14], "nice": false, "zero": false}, "axis": {"orient": "right", "title": null, "values": [1860, 1880, 1890, 1900, 1910, 1920, 1930, 1940, 1950, 1960, 1970, 1980, 1990, 2020, 2030], "format": ".2f", "labelPadding": 10, "grid": true, "labelOverlap": false}}
 }},
{"data": {"name": "one"},
 "mark": {"type": "rule", "color": "#089981", "strokeWidth": 13, "strokeCap": "butt"},
 "encoding": {
  "x": {"datum": 217.3, "type": "quantitative", "scale": {"domain": [-1.11, 216.47], "nice": false, "zero": false}, "axis": {"orient": "bottom", "labels": false, "grid": true, "title": null, "values": [17, 29, 47, 66, 78, 96, 115, 127, 145, 164, 176, 194, 204, 215]}},
  "x2": {"datum": 224.7},
  "y": {"datum": 2015, "type": "quantitative", "scale": {"domain": [1855.03, 2040.14], "nice": false, "zero": false}, "axis": {"orient": "right", "title": null, "values": [1860, 1880, 1890, 1900, 1910, 1920, 1930, 1940, 1950, 1960, 1970, 1980, 1990, 2020, 2030], "format": ".2f", "labelPadding": 10, "grid": true, "labelOverlap": false}}
 }},
{"data": {"name": "one"},
 "mark": {"type": "text", "text": "2015.00", "fontSize": 10.5, "align": "center", "baseline": "middle", "color": "white"},
 "encoding": {
  "x": {"datum": 221.0, "type": "quantitative", "scale": {"domain": [-1.11, 216.47], "nice": false, "zero": false}, "axis": {"orient": "bottom", "labels": false, "grid": true, "title": null, "values": [17, 29, 47, 66, 78, 96, 115, 127, 145, 164, 176, 194, 204, 215]}},
  "y": {"datum": 2015, "type": "quantitative", "scale": {"domain": [1855.03, 2040.14], "nice": false, "zero": false}, "axis": {"orient": "right", "title": null, "values": [1860, 1880, 1890, 1900, 1910, 1920, 1930, 1940, 1950, 1960, 1970, 1980, 1990, 2020, 2030], "format": ".2f", "labelPadding": 10, "grid": true, "labelOverlap": false}}
 }},
{"data": {"name": "one"},
 "mark": {"type": "text", "text": "VN30F1M, 5", "fontSize": 8.2, "align": "left", "baseline": "middle", "color": "#131722"},
 "encoding": {"x": {"datum": 0.09, "type": "quantitative", "scale": {"domain": [-1.11, 216.47], "nice": false, "zero": false}, "axis": {"orient": "bottom", "labels": false, "grid": true, "title": null, "values": [17, 29, 47, 66, 78, 96, 115, 127, 145, 164, 176, 194, 204, 215]}}, "y": {"datum": 2034.27, "type": "quantitative", "scale": {"domain": [1855.03, 2040.14], "nice": false, "zero": false}, "axis": {"orient": "right", "title": null, "values": [1860, 1880, 1890, 1900, 1910, 1920, 1930, 1940, 1950, 1960, 1970, 1980, 1990, 2020, 2030], "format": ".2f", "labelPadding": 10, "grid": true, "labelOverlap": false}}}},
{"data": {"name": "one"},
 "mark": {"type": "text", "text": "O", "fontSize": 8.2, "align": "left", "baseline": "middle", "color": "#131722"},
 "encoding": {"x": {"datum": 8.45, "type": "quantitative", "scale": {"domain": [-1.11, 216.47], "nice": false, "zero": false}, "axis": {"orient": "bottom", "labels": false, "grid": true, "title": null, "values": [17, 29, 47, 66, 78, 96, 115, 127, 145, 164, 176, 194, 204, 215]}}, "y": {"datum": 2034.27, "type": "quantitative", "scale": {"domain": [1855.03, 2040.14], "nice": false, "zero": false}, "axis": {"orient": "right", "title": null, "values": [1860, 1880, 1890, 1900, 1910, 1920, 1930, 1940, 1950, 1960, 1970, 1980, 1990, 2020, 2030], "format": ".2f", "labelPadding": 10, "grid": true, "labelOverlap": false}}}},
{"data": {"name": "one"},
 "mark": {"type": "text", "text": "2015.00", "fontSize": 8.2, "align": "left", "baseline": "middle", "color": "#089981"},
 "encoding": {"x": {"datum": 9.35, "type": "quantitative", "scale": {"domain": [-1.11, 216.47], "nice": false, "zero": false}, "axis": {"orient": "bottom", "labels": false, "grid": true, "title": null, "values": [17, 29, 47, 66, 78, 96, 115, 127, 145, 164, 176, 194, 204, 215]}}, "y": {"datum": 2034.27, "type": "quantitative", "scale": {"domain": [1855.03, 2040.14], "nice": false, "zero": false}, "axis": {"orient": "right", "title": null, "values": [1860, 1880, 1890, 1900, 1910, 1920, 1930, 1940, 1950, 1960, 1970, 1980, 1990, 2020, 2030], "format": ".2f", "labelPadding": 10, "grid": true, "labelOverlap": false}}}},
{"data": {"name": "one"},
 "mark": {"type": "text", "text": "H", "fontSize": 8.2, "align": "left", "baseline": "middle", "color": "#131722"},
 "encoding": {"x": {"datum": 15.5, "type": "quantitative", "scale": {"domain": [-1.11, 216.47], "nice": false, "zero": false}, "axis": {"orient": "bottom", "labels": false, "grid": true, "title": null, "values": [17, 29, 47, 66, 78, 96, 115, 127, 145, 164, 176, 194, 204, 215]}}, "y": {"datum": 2034.27, "type": "quantitative", "scale": {"domain": [1855.03, 2040.14], "nice": false, "zero": false}, "axis": {"orient": "right", "title": null, "values": [1860, 1880, 1890, 1900, 1910, 1920, 1930, 1940, 1950, 1960, 1970, 1980, 1990, 2020, 2030], "format": ".2f", "labelPadding": 10, "grid": true, "labelOverlap": false}}}},
{"data": {"name": "one"},
 "mark": {"type": "text", "text": "2015.00", "fontSize": 8.2, "align": "left", "baseline": "middle", "color": "#089981"},
 "encoding": {"x": {"datum": 16.47, "type": "quantitative", "scale": {"domain": [-1.11, 216.47], "nice": false, "zero": false}, "axis": {"orient": "bottom", "labels": false, "grid": true, "title": null, "values": [17, 29, 47, 66, 78, 96, 115, 127, 145, 164, 176, 194, 204, 215]}}, "y": {"datum": 2034.27, "type": "quantitative", "scale": {"domain": [1855.03, 2040.14], "nice": false, "zero": false}, "axis": {"orient": "right", "title": null, "values": [1860, 1880, 1890, 1900, 1910, 1920, 1930, 1940, 1950, 1960, 1970, 1980, 1990, 2020, 2030], "format": ".2f", "labelPadding": 10, "grid": true, "labelOverlap": false}}}},
{"data": {"name": "one"},
 "mark": {"type": "text", "text": "L", "fontSize": 8.2, "align": "left", "baseline": "middle", "color": "#131722"},
 "encoding": {"x": {"datum": 22.44, "type": "quantitative", "scale": {"domain": [-1.11, 216.47], "nice": false, "zero": false}, "axis": {"orient": "bottom", "labels": false, "grid": true, "title": null, "values": [17, 29, 47, 66, 78, 96, 115, 127, 145, 164, 176, 194, 204, 215]}}, "y": {"datum": 2034.27, "type": "quantitative", "scale": {"domain": [1855.03, 2040.14], "nice": false, "zero": false}, "axis": {"orient": "right", "title": null, "values": [1860, 1880, 1890, 1900, 1910, 1920, 1930, 1940, 1950, 1960, 1970, 1980, 1990, 2020, 2030], "format": ".2f", "labelPadding": 10, "grid": true, "labelOverlap": false}}}},
{"data": {"name": "one"},
 "mark": {"type": "text", "text": "2015.00", "fontSize": 8.2, "align": "left", "baseline": "middle", "color": "#089981"},
 "encoding": {"x": {"datum": 23.24, "type": "quantitative", "scale": {"domain": [-1.11, 216.47], "nice": false, "zero": false}, "axis": {"orient": "bottom", "labels": false, "grid": true, "title": null, "values": [17, 29, 47, 66, 78, 96, 115, 127, 145, 164, 176, 194, 204, 215]}}, "y": {"datum": 2034.27, "type": "quantitative", "scale": {"domain": [1855.03, 2040.14], "nice": false, "zero": false}, "axis": {"orient": "right", "title": null, "values": [1860, 1880, 1890, 1900, 1910, 1920, 1930, 1940, 1950, 1960, 1970, 1980, 1990, 2020, 2030], "format": ".2f", "labelPadding": 10, "grid": true, "labelOverlap": false}}}},
{"data": {"name": "one"},
 "mark": {"type": "text", "text": "C", "fontSize": 8.2, "align": "left", "baseline": "middle", "color": "#131722"},
 "encoding": {"x": {"datum": 28.87, "type": "quantitative", "scale": {"domain": [-1.11, 216.47], "nice": false, "zero": false}, "axis": {"orient": "bottom", "labels": false, "grid": true, "title": null, "values": [17, 29, 47, 66, 78, 96, 115, 127, 145, 164, 176, 194, 204, 215]}}, "y": {"datum": 2034.27, "type": "quantitative", "scale": {"domain": [1855.03, 2040.14], "nice": false, "zero": false}, "axis": {"orient": "right", "title": null, "values": [1860, 1880, 1890, 1900, 1910, 1920, 1930, 1940, 1950, 1960, 1970, 1980, 1990, 2020, 2030], "format": ".2f", "labelPadding": 10, "grid": true, "labelOverlap": false}}}},
{"data": {"name": "one"},
 "mark": {"type": "text", "text": "2015.00", "fontSize": 8.2, "align": "left", "baseline": "middle", "color": "#089981"},
 "encoding": {"x": {"datum": 29.66, "type": "quantitative", "scale": {"domain": [-1.11, 216.47], "nice": false, "zero": false}, "axis": {"orient": "bottom", "labels": false, "grid": true, "title": null, "values": [17, 29, 47, 66, 78, 96, 115, 127, 145, 164, 176, 194, 204, 215]}}, "y": {"datum": 2034.27, "type": "quantitative", "scale": {"domain": [1855.03, 2040.14], "nice": false, "zero": false}, "axis": {"orient": "right", "title": null, "values": [1860, 1880, 1890, 1900, 1910, 1920, 1930, 1940, 1950, 1960, 1970, 1980, 1990, 2020, 2030], "format": ".2f", "labelPadding": 10, "grid": true, "labelOverlap": false}}}},
{"data": {"name": "one"},
 "mark": {"type": "text", "text": "−2.80 (−0.14%)", "fontSize": 8.2, "align": "left", "baseline": "middle", "color": "#089981"},
 "encoding": {"x": {"datum": 35.97, "type": "quantitative", "scale": {"domain": [-1.11, 216.47], "nice": false, "zero": false}, "axis": {"orient": "bottom", "labels": false, "grid": true, "title": null, "values": [17, 29, 47, 66, 78, 96, 115, 127, 145, 164, 176, 194, 204, 215]}}, "y": {"datum": 2034.27, "type": "quantitative", "scale": {"domain": [1855.03, 2040.14], "nice": false, "zero": false}, "axis": {"orient": "right", "title": null, "values": [1860, 1880, 1890, 1900, 1910, 1920, 1930, 1940, 1950, 1960, 1970, 1980, 1990, 2020, 2030], "format": ".2f", "labelPadding": 10, "grid": true, "labelOverlap": false}}}},
{"data": {"name": "one"},
 "mark": {"type": "text", "text": "Volume (SMA, 9)", "fontSize": 8.2, "align": "left", "baseline": "middle", "color": "#131722"},
 "encoding": {"x": {"datum": 0.09, "type": "quantitative", "scale": {"domain": [-1.11, 216.47], "nice": false, "zero": false}, "axis": {"orient": "bottom", "labels": false, "grid": true, "title": null, "values": [17, 29, 47, 66, 78, 96, 115, 127, 145, 164, 176, 194, 204, 215]}}, "y": {"datum": 2028.63, "type": "quantitative", "scale": {"domain": [1855.03, 2040.14], "nice": false, "zero": false}, "axis": {"orient": "right", "title": null, "values": [1860, 1880, 1890, 1900, 1910, 1920, 1930, 1940, 1950, 1960, 1970, 1980, 1990, 2020, 2030], "format": ".2f", "labelPadding": 10, "grid": true, "labelOverlap": false}}}},
{"data": {"name": "one"},
 "mark": {"type": "text", "text": "4.137K", "fontSize": 8.2, "align": "left", "baseline": "middle", "color": "#22ab94"},
 "encoding": {"x": {"datum": 11.74, "type": "quantitative", "scale": {"domain": [-1.11, 216.47], "nice": false, "zero": false}, "axis": {"orient": "bottom", "labels": false, "grid": true, "title": null, "values": [17, 29, 47, 66, 78, 96, 115, 127, 145, 164, 176, 194, 204, 215]}}, "y": {"datum": 2028.63, "type": "quantitative", "scale": {"domain": [1855.03, 2040.14], "nice": false, "zero": false}, "axis": {"orient": "right", "title": null, "values": [1860, 1880, 1890, 1900, 1910, 1920, 1930, 1940, 1950, 1960, 1970, 1980, 1990, 2020, 2030], "format": ".2f", "labelPadding": 10, "grid": true, "labelOverlap": false}}}},
{"data": {"name": "one"},
 "mark": {"type": "text", "text": "BB (20, 2)", "fontSize": 8.2, "align": "left", "baseline": "middle", "color": "#131722"},
 "encoding": {"x": {"datum": 0.09, "type": "quantitative", "scale": {"domain": [-1.11, 216.47], "nice": false, "zero": false}, "axis": {"orient": "bottom", "labels": false, "grid": true, "title": null, "values": [17, 29, 47, 66, 78, 96, 115, 127, 145, 164, 176, 194, 204, 215]}}, "y": {"datum": 2023.21, "type": "quantitative", "scale": {"domain": [1855.03, 2040.14], "nice": false, "zero": false}, "axis": {"orient": "right", "title": null, "values": [1860, 1880, 1890, 1900, 1910, 1920, 1930, 1940, 1950, 1960, 1970, 1980, 1990, 2020, 2030], "format": ".2f", "labelPadding": 10, "grid": true, "labelOverlap": false}}}},
{"data": {"name": "one"},
 "mark": {"type": "text", "text": "2016.81", "fontSize": 8.2, "align": "left", "baseline": "middle", "color": "#f57c00"},
 "encoding": {"x": {"datum": 7.37, "type": "quantitative", "scale": {"domain": [-1.11, 216.47], "nice": false, "zero": false}, "axis": {"orient": "bottom", "labels": false, "grid": true, "title": null, "values": [17, 29, 47, 66, 78, 96, 115, 127, 145, 164, 176, 194, 204, 215]}}, "y": {"datum": 2023.21, "type": "quantitative", "scale": {"domain": [1855.03, 2040.14], "nice": false, "zero": false}, "axis": {"orient": "right", "title": null, "values": [1860, 1880, 1890, 1900, 1910, 1920, 1930, 1940, 1950, 1960, 1970, 1980, 1990, 2020, 2030], "format": ".2f", "labelPadding": 10, "grid": true, "labelOverlap": false}}}},
{"data": {"name": "one"},
 "mark": {"type": "text", "text": "2025.42", "fontSize": 8.2, "align": "left", "baseline": "middle", "color": "#2196f3"},
 "encoding": {"x": {"datum": 13.28, "type": "quantitative", "scale": {"domain": [-1.11, 216.47], "nice": false, "zero": false}, "axis": {"orient": "bottom", "labels": false, "grid": true, "title": null, "values": [17, 29, 47, 66, 78, 96, 115, 127, 145, 164, 176, 194, 204, 215]}}, "y": {"datum": 2023.21, "type": "quantitative", "scale": {"domain": [1855.03, 2040.14], "nice": false, "zero": false}, "axis": {"orient": "right", "title": null, "values": [1860, 1880, 1890, 1900, 1910, 1920, 1930, 1940, 1950, 1960, 1970, 1980, 1990, 2020, 2030], "format": ".2f", "labelPadding": 10, "grid": true, "labelOverlap": false}}}},
{"data": {"name": "one"},
 "mark": {"type": "text", "text": "2008.20", "fontSize": 8.2, "align": "left", "baseline": "middle", "color": "#2196f3"},
 "encoding": {"x": {"datum": 19.2, "type": "quantitative", "scale": {"domain": [-1.11, 216.47], "nice": false, "zero": false}, "axis": {"orient": "bottom", "labels": false, "grid": true, "title": null, "values": [17, 29, 47, 66, 78, 96, 115, 127, 145, 164, 176, 194, 204, 215]}}, "y": {"datum": 2023.21, "type": "quantitative", "scale": {"domain": [1855.03, 2040.14], "nice": false, "zero": false}, "axis": {"orient": "right", "title": null, "values": [1860, 1880, 1890, 1900, 1910, 1920, 1930, 1940, 1950, 1960, 1970, 1980, 1990, 2020, 2030], "format": ".2f", "labelPadding": 10, "grid": true, "labelOverlap": false}}}},
{"data": {"name": "one"},
 "mark": {"type": "text", "text": "MA (10, close, 0, SMA, 9)", "fontSize": 8.2, "align": "left", "baseline": "middle", "color": "#131722"},
 "encoding": {"x": {"datum": 0.09, "type": "quantitative", "scale": {"domain": [-1.11, 216.47], "nice": false, "zero": false}, "axis": {"orient": "bottom", "labels": false, "grid": true, "title": null, "values": [17, 29, 47, 66, 78, 96, 115, 127, 145, 164, 176, 194, 204, 215]}}, "y": {"datum": 2017.79, "type": "quantitative", "scale": {"domain": [1855.03, 2040.14], "nice": false, "zero": false}, "axis": {"orient": "right", "title": null, "values": [1860, 1880, 1890, 1900, 1910, 1920, 1930, 1940, 1950, 1960, 1970, 1980, 1990, 2020, 2030], "format": ".2f", "labelPadding": 10, "grid": true, "labelOverlap": false}}}},
{"data": {"name": "one"},
 "mark": {"type": "text", "text": "2016.57", "fontSize": 8.2, "align": "left", "baseline": "middle", "color": "#4e63f2"},
 "encoding": {"x": {"datum": 17.7, "type": "quantitative", "scale": {"domain": [-1.11, 216.47], "nice": false, "zero": false}, "axis": {"orient": "bottom", "labels": false, "grid": true, "title": null, "values": [17, 29, 47, 66, 78, 96, 115, 127, 145, 164, 176, 194, 204, 215]}}, "y": {"datum": 2017.79, "type": "quantitative", "scale": {"domain": [1855.03, 2040.14], "nice": false, "zero": false}, "axis": {"orient": "right", "title": null, "values": [1860, 1880, 1890, 1900, 1910, 1920, 1930, 1940, 1950, 1960, 1970, 1980, 1990, 2020, 2030], "format": ".2f", "labelPadding": 10, "grid": true, "labelOverlap": false}}}}
]
}
]
},
{
"width": 1275, "height": 126,
"layer": [
{"data": {"name": "one"},
 "mark": {"type": "rect", "color": "#7e57c2", "opacity": 0.1},
 "encoding": {
  "x": {"datum": -1.11, "type": "quantitative", "scale": {"domain": [-1.11, 216.47], "nice": false, "zero": false}, "axis": {"orient": "bottom", "labels": false, "grid": true, "title": null, "values": [17, 29, 47, 66, 78, 96, 115, 127, 145, 164, 176, 194, 204, 215]}},
  "x2": {"datum": 216.47},
  "y": {"datum": 70, "type": "quantitative", "scale": {"domain": [17.6, 94.5], "nice": false, "zero": false}, "axis": {"orient": "right", "title": null, "values": [20, 40, 60, 80], "format": ".2f", "labelPadding": 10, "grid": true, "labelOverlap": false}},
  "y2": {"datum": 30}
 }},
{"data": {"values": [{"lvl": 70}, {"lvl": 50}, {"lvl": 30}]},
 "mark": {"type": "rule", "color": "#787b86", "strokeDash": [4, 4], "strokeWidth": 1, "opacity": 0.8},
 "encoding": {
  "y": {"field": "lvl", "type": "quantitative", "scale": {"domain": [17.6, 94.5], "nice": false, "zero": false}, "axis": {"orient": "right", "title": null, "values": [20, 40, 60, 80], "format": ".2f", "labelPadding": 10, "grid": true, "labelOverlap": false}}
 }},
{"data": {"name": "r"},
 "mark": {"type": "line", "color": "#7e57c2", "strokeWidth": 1},
 "encoding": {
  "x": {"field": "i", "type": "quantitative", "scale": {"domain": [-1.11, 216.47], "nice": false, "zero": false}, "axis": {"orient": "bottom", "labels": false, "grid": true, "title": null, "values": [17, 29, 47, 66, 78, 96, 115, 127, 145, 164, 176, 194, 204, 215]}},
  "y": {"field": "r", "type": "quantitative", "scale": {"domain": [17.6, 94.5], "nice": false, "zero": false}, "axis": {"orient": "right", "title": null, "values": [20, 40, 60, 80], "format": ".2f", "labelPadding": 10, "grid": true, "labelOverlap": false}}
 }},
{"data": {"name": "one"},
 "mark": {"type": "rule", "color": "#7e57c2", "strokeWidth": 13, "strokeCap": "butt"},
 "encoding": {
  "x": {"datum": 217.3, "type": "quantitative", "scale": {"domain": [-1.11, 216.47], "nice": false, "zero": false}, "axis": {"orient": "bottom", "labels": false, "grid": true, "title": null, "values": [17, 29, 47, 66, 78, 96, 115, 127, 145, 164, 176, 194, 204, 215]}},
  "x2": {"datum": 224.0},
  "y": {"datum": 52.83, "type": "quantitative", "scale": {"domain": [17.6, 94.5], "nice": false, "zero": false}, "axis": {"orient": "right", "title": null, "values": [20, 40, 60, 80], "format": ".2f", "labelPadding": 10, "grid": true, "labelOverlap": false}}
 }},
{"data": {"name": "one"},
 "mark": {"type": "text", "text": "52.83", "fontSize": 10.5, "align": "center", "baseline": "middle", "color": "white"},
 "encoding": {
  "x": {"datum": 220.65, "type": "quantitative", "scale": {"domain": [-1.11, 216.47], "nice": false, "zero": false}, "axis": {"orient": "bottom", "labels": false, "grid": true, "title": null, "values": [17, 29, 47, 66, 78, 96, 115, 127, 145, 164, 176, 194, 204, 215]}},
  "y": {"datum": 52.83, "type": "quantitative", "scale": {"domain": [17.6, 94.5], "nice": false, "zero": false}, "axis": {"orient": "right", "title": null, "values": [20, 40, 60, 80], "format": ".2f", "labelPadding": 10, "grid": true, "labelOverlap": false}}
 }},
{"data": {"name": "one"},
 "mark": {"type": "text", "text": "RSI (14, SMA, 14)", "fontSize": 8.2, "align": "left", "baseline": "middle", "color": "#131722"},
 "encoding": {
  "x": {"datum": 0.09, "type": "quantitative", "scale": {"domain": [-1.11, 216.47], "nice": false, "zero": false}, "axis": {"orient": "bottom", "labels": false, "grid": true, "title": null, "values": [17, 29, 47, 66, 78, 96, 115, 127, 145, 164, 176, 194, 204, 215]}},
  "y": {"datum": 88.4, "type": "quantitative", "scale": {"domain": [17.6, 94.5], "nice": false, "zero": false}, "axis": {"orient": "right", "title": null, "values": [20, 40, 60, 80], "format": ".2f", "labelPadding": 10, "grid": true, "labelOverlap": false}}
 }},
{"data": {"name": "one"},
 "mark": {"type": "text", "text": "52.83", "fontSize": 8.2, "align": "left", "baseline": "middle", "color": "#7e57c2"},
 "encoding": {
  "x": {"datum": 13.2, "type": "quantitative", "scale": {"domain": [-1.11, 216.47], "nice": false, "zero": false}, "axis": {"orient": "bottom", "labels": false, "grid": true, "title": null, "values": [17, 29, 47, 66, 78, 96, 115, 127, 145, 164, 176, 194, 204, 215]}},
  "y": {"datum": 88.4, "type": "quantitative", "scale": {"domain": [17.6, 94.5], "nice": false, "zero": false}, "axis": {"orient": "right", "title": null, "values": [20, 40, 60, 80], "format": ".2f", "labelPadding": 10, "grid": true, "labelOverlap": false}}
 }}
]
},
{
"width": 1275, "height": 126,
"layer": [
{"data": {"name": "k"},
 "mark": {"type": "bar", "width": 4.6, "clip": true},
 "encoding": {
  "x": {"field": "i", "type": "quantitative", "scale": {"domain": [-1.11, 216.47], "nice": false, "zero": false},
        "axis": {"orient": "bottom", "grid": true, "values": [17, 29, 47, 66, 78, 96, 115, 127, 145, 164, 176, 194, 204, 215],
                 "labelExpr": "['18','10:00','13:00','19','10:00','13:00','22','10:00','13:00','23','10:00','13:00','13:50','15:00'][indexof([17,29,47,66,78,96,115,127,145,164,176,194,204,215], datum.value)]",
                 "labelFontWeight": {"condition": {"test": "indexof([17,66,115,164], datum.value) >= 0", "value": "bold"}, "value": "normal"},
                 "labelPadding": 7, "labelFontSize": 10.5, "labelOverlap": false,
                 "title": "TradingView", "titleAnchor": "start", "titleAlign": "left", "titleX": 13, "titlePadding": 10, "titleFontSize": 10, "titleFontWeight": "normal", "titleColor": "#131722"}},
  "y": {"field": "m", "type": "quantitative", "scale": {"domain": [-7.0, 12.95], "nice": false, "zero": false}, "axis": {"orient": "right", "title": null, "values": [-4, 0, 8, 12], "format": ".2f", "labelPadding": 10, "grid": true, "labelOverlap": false}},
  "y2": {"datum": 0},
  "color": {"condition": [
     {"test": "datum.m >= 0 && datum.g == 1", "value": "#26a69a"},
     {"test": "datum.m >= 0", "value": "#b2dfdb"},
     {"test": "datum.g == 0", "value": "#ff5252"}
   ], "value": "#ffcdd2"}
 }},
{"data": {"name": "sg"},
 "mark": {"type": "line", "color": "#ff9800", "strokeWidth": 1, "interpolate": "monotone"},
 "encoding": {
  "x": {"field": "i", "type": "quantitative", "scale": {"domain": [-1.11, 216.47], "nice": false, "zero": false}, "axis": {"orient": "bottom"}},
  "y": {"field": "v", "type": "quantitative", "scale": {"domain": [-7.0, 12.95], "nice": false, "zero": false}, "axis": {"orient": "right", "title": null, "values": [-4, 0, 8, 12], "format": ".2f", "labelPadding": 10, "grid": true, "labelOverlap": false}}
 }},
{"data": {"name": "md"},
 "mark": {"type": "line", "color": "#2962ff", "strokeWidth": 1, "interpolate": "monotone"},
 "encoding": {
  "x": {"field": "i", "type": "quantitative", "scale": {"domain": [-1.11, 216.47], "nice": false, "zero": false}, "axis": {"orient": "bottom"}},
  "y": {"field": "v", "type": "quantitative", "scale": {"domain": [-7.0, 12.95], "nice": false, "zero": false}, "axis": {"orient": "right", "title": null, "values": [-4, 0, 8, 12], "format": ".2f", "labelPadding": 10, "grid": true, "labelOverlap": false}}
 }},
{"data": {"name": "one"},
 "mark": {"type": "rule", "color": "#ffb300", "strokeWidth": 12, "strokeCap": "butt"},
 "encoding": {
  "x": {"datum": 217.3, "type": "quantitative", "scale": {"domain": [-1.11, 216.47], "nice": false, "zero": false}, "axis": {"orient": "bottom"}},
  "x2": {"datum": 222.6},
  "y": {"datum": 4.35, "type": "quantitative", "scale": {"domain": [-7.0, 12.95], "nice": false, "zero": false}, "axis": {"orient": "right", "title": null, "values": [-4, 0, 8, 12], "format": ".2f", "labelPadding": 10, "grid": true, "labelOverlap": false}}
 }},
{"data": {"name": "one"},
 "mark": {"type": "text", "text": "3.33", "fontSize": 10.5, "align": "center", "baseline": "middle", "color": "#131722"},
 "encoding": {
  "x": {"datum": 219.95, "type": "quantitative", "scale": {"domain": [-1.11, 216.47], "nice": false, "zero": false}, "axis": {"orient": "bottom"}},
  "y": {"datum": 4.35, "type": "quantitative", "scale": {"domain": [-7.0, 12.95], "nice": false, "zero": false}, "axis": {"orient": "right", "title": null, "values": [-4, 0, 8, 12], "format": ".2f", "labelPadding": 10, "grid": true, "labelOverlap": false}}
 }},
{"data": {"name": "one"},
 "mark": {"type": "rule", "color": "#2962ff", "strokeWidth": 12, "strokeCap": "butt"},
 "encoding": {
  "x": {"datum": 217.3, "type": "quantitative", "scale": {"domain": [-1.11, 216.47], "nice": false, "zero": false}, "axis": {"orient": "bottom"}},
  "x2": {"datum": 222.6},
  "y": {"datum": 2.39, "type": "quantitative", "scale": {"domain": [-7.0, 12.95], "nice": false, "zero": false}, "axis": {"orient": "right", "title": null, "values": [-4, 0, 8, 12], "format": ".2f", "labelPadding": 10, "grid": true, "labelOverlap": false}}
 }},
{"data": {"name": "one"},
 "mark": {"type": "text", "text": "2.39", "fontSize": 10.5, "align": "center", "baseline": "middle", "color": "white"},
 "encoding": {
  "x": {"datum": 219.95, "type": "quantitative", "scale": {"domain": [-1.11, 216.47], "nice": false, "zero": false}, "axis": {"orient": "bottom"}},
  "y": {"datum": 2.39, "type": "quantitative", "scale": {"domain": [-7.0, 12.95], "nice": false, "zero": false}, "axis": {"orient": "right", "title": null, "values": [-4, 0, 8, 12], "format": ".2f", "labelPadding": 10, "grid": true, "labelOverlap": false}}
 }},
{"data": {"name": "one"},
 "mark": {"type": "rule", "color": "#ff5252", "strokeWidth": 12, "strokeCap": "butt"},
 "encoding": {
  "x": {"datum": 217.3, "type": "quantitative", "scale": {"domain": [-1.11, 216.47], "nice": false, "zero": false}, "axis": {"orient": "bottom"}},
  "x2": {"datum": 224.0},
  "y": {"datum": -1.0, "type": "quantitative", "scale": {"domain": [-7.0, 12.95], "nice": false, "zero": false}, "axis": {"orient": "right", "title": null, "values": [-4, 0, 8, 12], "format": ".2f", "labelPadding": 10, "grid": true, "labelOverlap": false}}
 }},
{"data": {"name": "one"},
 "mark": {"type": "text", "text": "−0.94", "fontSize": 10.5, "align": "center", "baseline": "middle", "color": "white"},
 "encoding": {
  "x": {"datum": 220.65, "type": "quantitative", "scale": {"domain": [-1.11, 216.47], "nice": false, "zero": false}, "axis": {"orient": "bottom"}},
  "y": {"datum": -1.0, "type": "quantitative", "scale": {"domain": [-7.0, 12.95], "nice": false, "zero": false}, "axis": {"orient": "right", "title": null, "values": [-4, 0, 8, 12], "format": ".2f", "labelPadding": 10, "grid": true, "labelOverlap": false}}
 }},
{"data": {"name": "one"},
 "mark": {"type": "text", "text": "MACD (12, 26, close, 9)", "fontSize": 8.2, "align": "left", "baseline": "middle", "color": "#131722"},
 "encoding": {
  "x": {"datum": 0.09, "type": "quantitative", "scale": {"domain": [-1.11, 216.47], "nice": false, "zero": false}, "axis": {"orient": "bottom"}},
  "y": {"datum": 11.68, "type": "quantitative", "scale": {"domain": [-7.0, 12.95], "nice": false, "zero": false}, "axis": {"orient": "right", "title": null, "values": [-4, 0, 8, 12], "format": ".2f", "labelPadding": 10, "grid": true, "labelOverlap": false}}
 }},
{"data": {"name": "one"},
 "mark": {"type": "text", "text": "−0.94", "fontSize": 8.2, "align": "left", "baseline": "middle", "color": "#ff5252"},
 "encoding": {
  "x": {"datum": 16.8, "type": "quantitative", "scale": {"domain": [-1.11, 216.47], "nice": false, "zero": false}, "axis": {"orient": "bottom"}},
  "y": {"datum": 11.68, "type": "quantitative", "scale": {"domain": [-7.0, 12.95], "nice": false, "zero": false}, "axis": {"orient": "right", "title": null, "values": [-4, 0, 8, 12], "format": ".2f", "labelPadding": 10, "grid": true, "labelOverlap": false}}
 }},
{"data": {"name": "one"},
 "mark": {"type": "text", "text": "2.39", "fontSize": 8.2, "align": "left", "baseline": "middle", "color": "#2962ff"},
 "encoding": {
  "x": {"datum": 21.1, "type": "quantitative", "scale": {"domain": [-1.11, 216.47], "nice": false, "zero": false}, "axis": {"orient": "bottom"}},
  "y": {"datum": 11.68, "type": "quantitative", "scale": {"domain": [-7.0, 12.95], "nice": false, "zero": false}, "axis": {"orient": "right", "title": null, "values": [-4, 0, 8, 12], "format": ".2f", "labelPadding": 10, "grid": true, "labelOverlap": false}}
 }},
{"data": {"name": "one"},
 "mark": {"type": "text", "text": "3.33", "fontSize": 8.2, "align": "left", "baseline": "middle", "color": "#ff9800"},
 "encoding": {
  "x": {"datum": 24.9, "type": "quantitative", "scale": {"domain": [-1.11, 216.47], "nice": false, "zero": false}, "axis": {"orient": "bottom"}},
  "y": {"datum": 11.68, "type": "quantitative", "scale": {"domain": [-7.0, 12.95], "nice": false, "zero": false}, "axis": {"orient": "right", "title": null, "values": [-4, 0, 8, 12], "format": ".2f", "labelPadding": 10, "grid": true, "labelOverlap": false}}
 }}
]
}
]
}
